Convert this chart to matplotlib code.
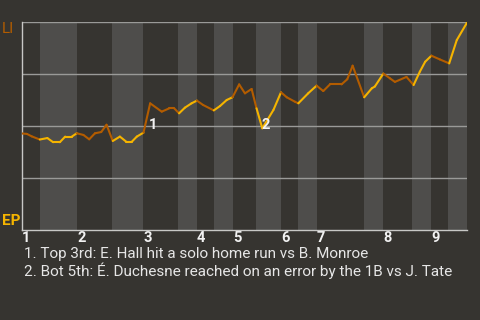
import matplotlib
matplotlib.use('Agg')
import matplotlib.pyplot as plt
import numpy as np
from matplotlib.collections import LineCollection

plt.rcParams['font.family'] = ['Roboto', 'DejaVu Sans']

# game progress (0-100) and value of each play
progress = [0, 1.1, 2.2, 4.0, 5.7, 7.0, 8.5, 9.7, 11.2, 12.3,
            13.8, 15.1, 16.4, 17.8, 19.0, 20.4, 22.0, 23.4, 24.7, 25.8,
            27.3, 28.8, 31.4, 33.1, 34.2, 35.3, 36.6, 38.1, 39.3, 40.7,
            43.1, 44.5, 46.0, 47.3, 48.8, 50.1, 51.6, 52.7, 54.0, 56.5,
            58.2, 59.5, 61.3, 62.1, 64.3, 66.2, 67.7, 69.2, 71.8, 73.1,
            74.3, 76.9, 78.6, 79.3, 81.2, 82.7, 83.8, 86.4, 88.0, 89.4,
            90.6, 92.0, 93.9, 96.0, 97.7, 100]
values = [0.464, 0.462, 0.450, 0.435, 0.442, 0.422, 0.422, 0.449, 0.449, 0.465,
          0.457, 0.436, 0.465, 0.471, 0.506, 0.428, 0.449, 0.425, 0.425, 0.449,
          0.468, 0.609, 0.569, 0.585, 0.585, 0.561, 0.588, 0.609, 0.622, 0.601,
          0.575, 0.596, 0.625, 0.638, 0.700, 0.657, 0.678, 0.585, 0.489, 0.577,
          0.662, 0.638, 0.617, 0.609, 0.657, 0.694, 0.668, 0.700, 0.700, 0.725,
          0.790, 0.638, 0.681, 0.690, 0.752, 0.729, 0.712, 0.736, 0.697, 0.761,
          0.809, 0.838, 0.820, 0.801, 0.913, 0.997]

# start of each half inning (top, bottom, top, bottom, ...)
half_starts = [0, 4.0, 12.4, 20.2, 27.2, 35.1, 39.3, 43.1, 47.4, 52.6,
               58.2, 62.0, 66.3, 76.9, 81.1, 87.6, 91.9, 95.7, 100]
innings = ['1', '2', '3', '4', '5', '6', '7', '8', '9']

events = [('1', 28.4, 0.486), ('2', 53.8, 0.486)]
notes = ['1. Top 3rd: E. Hall hit a solo home run vs B. Monroe',
         '2. Bot 5th: \u00c9. Duchesne reached on an error by the 1B vs J. Tate']

bg = '#363430'
stripe = '#4e4d4b'
away_col = '#b35c00'
home_col = '#f5b400'

fig = plt.figure(figsize=(4.8, 3.2), dpi=100, facecolor=bg)
ax = fig.add_axes([22 / 480, 1 - 230 / 320, 445 / 480, 208 / 320])
ax.set_facecolor(bg)
ax.set_xlim(0, 100)
ax.set_ylim(0, 1)

# bottom halves get a lighter band
for i in range(1, len(half_starts) - 1, 2):
    ax.axvspan(half_starts[i], half_starts[i + 1], color=stripe, lw=0, zorder=0)

for gy in [0.25, 0.5, 0.75, 1.0]:
    ax.axhline(gy, color='#9a9a98', lw=1, zorder=1)

# colour each segment by the half inning it falls in
pts = np.column_stack([progress, values])
segs = np.stack([pts[:-1], pts[1:]], axis=1)
mids = (pts[:-1, 0] + pts[1:, 0]) / 2
idx = np.searchsorted(half_starts, mids) - 1
cols = [home_col if k % 2 else away_col for k in idx]
ax.add_collection(LineCollection(segs, colors=cols, linewidths=1.5,
                                 capstyle='round', joinstyle='round', zorder=3))

for lab, ex, ey in events:
    ax.text(ex, ey, lab, color='#f2f2f2', fontsize=10.5, fontweight='bold',
            ha='left', va='baseline', zorder=4)

for s in ['top', 'right']:
    ax.spines[s].set_visible(False)
for s in ['left', 'bottom']:
    ax.spines[s].set_color('#c8c8c6')
    ax.spines[s].set_linewidth(1)

ax.set_yticks([])
ax.set_xticks(half_starts[0:-1:2])
ax.set_xticklabels(innings, color='#f2f2f2', fontsize=10.5, fontweight='bold', ha='left')
ax.tick_params(axis='x', length=0, pad=1)

fig.text(2 / 480, 1 - 33 / 320, 'LI', color=away_col, fontsize=11, va='baseline')
fig.text(2 / 480, 1 - 225 / 320, 'EP', color=home_col, fontsize=11,
         fontweight='bold', va='baseline')

for k, line in enumerate(notes):
    fig.text(24 / 480, 1 - (258 + 18 * k) / 320, line, color='#e6e6e6',
             fontsize=11, va='baseline')

fig.savefig('out.png', dpi=100, facecolor=bg)
